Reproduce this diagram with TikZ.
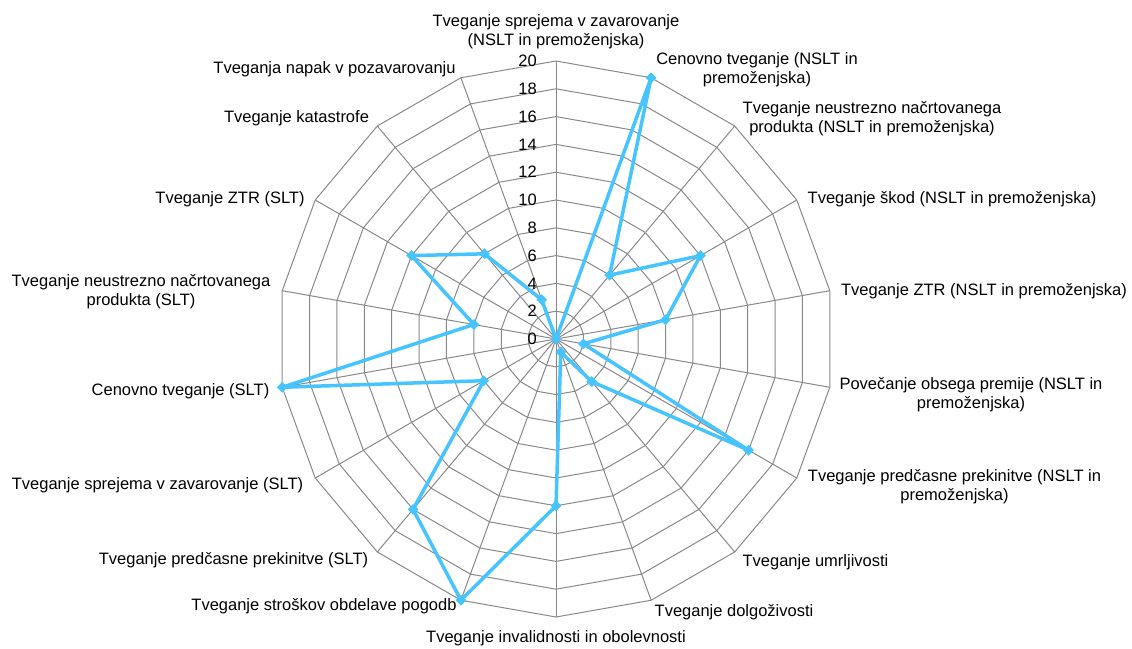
\documentclass[tikz,border=0pt]{standalone}
\usepackage{fontspec}
\setmainfont{Liberation Sans}
\usetikzlibrary{shapes.geometric}
\definecolor{gridgray}{RGB}{137,137,137}
\definecolor{serblue}{RGB}{70,196,255}
\begin{document}
\begin{tikzpicture}[x=1pt,y=-1pt,
  gridline/.style={draw=gridgray,line width=1pt},
  dataline/.style={draw=serblue,line width=3.5pt,line join=round},
  dmark/.style={diamond,fill=serblue,inner sep=0pt,minimum width=11pt,minimum height=11pt},
  lbl/.style={font=\fontsize{16.5}{18.8}\selectfont,align=center,inner sep=0pt,text=black},
  ticklbl/.style={font=\fontsize{16.5}{18.8}\selectfont,anchor=east,inner sep=0pt,text=black}]
\useasboundingbox (0,0) rectangle (1132,648);
\fill[white] (0,0) rectangle (1132,648);
\begin{scope}[shift={(556,339)},y=1pt]
  \foreach \k in {1,...,10} {
    \draw[gridline] (90:{\k*27.8}) \foreach \i in {1,...,17}{ -- ({90-20*\i}:{\k*27.8})} -- cycle;
  }
  \foreach \i in {0,...,17} \draw[gridline] (0,0) -- ({90-20*\i}:278);
  \foreach \v in {0,2,...,20} \node[ticklbl] (t\v) at (-19,{\v*13.9}) {\v};
  \foreach \v [count=\j from 0] in {0,20,6,12,8,2,16,4,1,12,20,16,6,20,6,12,8,3}
    \coordinate (p\j) at ({90-20*\j}:{\v*13.9});
  \draw[dataline] (p0) -- (p1) -- (p2) -- (p3) -- (p4) -- (p5) -- (p6) -- (p7) -- (p8)
    -- (p9) -- (p10) -- (p11) -- (p12) -- (p13) -- (p14) -- (p15) -- (p16) -- (p17) -- cycle;
  \foreach \j in {0,...,17} \node[dmark] (m\j) at (p\j) {};
\end{scope}
\node[lbl] (l0) at (556,32) {Tveganje sprejema v zavarovanje\\(NSLT in premoženjska)};
\node[lbl] (l1) at (757,69.5) {Cenovno tveganje (NSLT in\\premoženjska)};
\node[lbl] (l2) at (872,118.5) {Tveganje neustrezno načrtovanega\\produkta (NSLT in premoženjska)};
\node[lbl] (l3) at (952,199) {Tveganje škod (NSLT in premoženjska)};
\node[lbl] (l4) at (984,291) {Tveganje ZTR (NSLT in premoženjska)};
\node[lbl] (l5) at (971,394.5) {Povečanje obsega premije (NSLT in\\premoženjska)};
\node[lbl] (l6) at (954.5,487) {Tveganje predčasne prekinitve (NSLT in\\premoženjska)};
\node[lbl] (l7) at (815.5,562) {Tveganje umrljivosti};
\node[lbl] (l8) at (734,612) {Tveganje dolgoživosti};
\node[lbl] (l9) at (556,638) {Tveganje invalidnosti in obolevnosti};
\node[lbl] (l10) at (324,606) {Tveganje stroškov obdelave pogodb};
\node[lbl] (l11) at (233.5,560) {Tveganje predčasne prekinitve (SLT)};
\node[lbl] (l12) at (157.5,485) {Tveganje sprejema v zavarovanje (SLT)};
\node[lbl] (l13) at (180.5,391) {Cenovno tveganje (SLT)};
\node[lbl] (l14) at (141,291.5) {Tveganje neustrezno načrtovanega\\produkta (SLT)};
\node[lbl] (l15) at (230,199) {Tveganje ZTR (SLT)};
\node[lbl] (l16) at (296.5,118) {Tveganje katastrofe};
\node[lbl] (l17) at (334.5,69) {Tveganja napak v pozavarovanju};
\end{tikzpicture}
\end{document}
